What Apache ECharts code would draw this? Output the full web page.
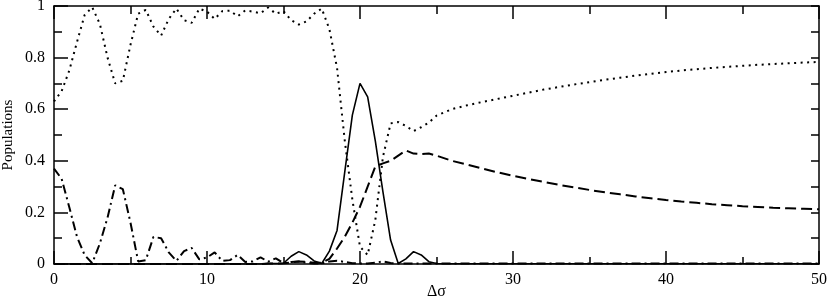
<!DOCTYPE html>
<html>
<head>
<meta charset="utf-8">
<script src="https://cdn.jsdelivr.net/npm/echarts@6/dist/echarts.min.js"></script>
<style>
html, body { margin: 0; padding: 0; background: #fff; }
#chart { width: 830px; height: 300px; }
</style>
</head>
<body>
<div id="chart"></div>
<script>
// delta sigma grid: 0.5 steps up to 25, then 1 steps
var sigma = [0,0.5,1,1.5,2,2.5,3,3.5,4,4.5,5,5.5,6,6.5,7,7.5,8,8.5,9,9.5,
	10,10.5,11,11.5,12,12.5,13,13.5,14,14.5,15,15.5,16,16.5,17,17.5,18,18.5,19,19.5,
	20,20.5,21,21.5,22,22.5,23,23.5,24,24.5,25,
	26,27,28,29,30,31,32,33,34,35,36,37,38,39,40,41,42,43,44,45,46,47,48,49,50];

// dotted
var popDotted = [0.63,0.67,0.75,0.86,0.965,0.995,0.93,0.80,0.70,0.71,0.85,0.97,0.985,0.92,0.885,0.95,0.99,0.945,0.935,0.99,
	0.978,0.95,0.98,0.982,0.96,0.983,0.978,0.972,0.994,0.97,0.98,0.945,0.928,0.94,0.97,0.99,0.91,0.76,0.48,0.25,
	0.067,0.035,0.17,0.415,0.545,0.55,0.535,0.515,0.53,0.548,0.575,
	0.60,0.615,0.628,0.64,0.652,0.664,0.676,0.686,0.696,0.705,0.714,0.722,0.73,0.737,0.744,0.75,0.755,0.76,0.764,0.768,0.772,0.775,0.778,0.781,0.783];

// solid
var popSolid = [0,0,0,0,0,0,0,0,0,0,0,0,0,0,0,0,0,0,0,0,
	0,0,0,0,0,0,0,0,0.002,0.002,0.003,0.03,0.048,0.035,0.012,0.002,0.05,0.13,0.355,0.577,
	0.70,0.648,0.477,0.28,0.093,0.002,0.02,0.048,0.035,0.009,0.002,
	0.001,0.001,0.001,0.001,0.001,0.001,0.001,0.001,0.001,0.001,0.001,0.001,0.001,0.001,0.001,0.001,0.001,0.001,0.001,0.001,0.001,0.001,0.001,0.001,0.001];

// dashed
var popDashed = [0,0,0,0,0,0,0,0,0,0,0,0,0,0,0,0,0,0,0,0,
	0,0,0,0,0,0,0,0,0.002,0.002,0.003,0.006,0.01,0.008,0.005,0.005,0.02,0.06,0.105,0.16,
	0.222,0.30,0.378,0.39,0.40,0.42,0.44,0.428,0.426,0.428,0.42,
	0.40,0.385,0.37,0.355,0.342,0.33,0.318,0.307,0.297,0.287,0.278,0.27,0.262,0.255,0.248,0.242,0.237,0.232,0.228,0.224,0.221,0.218,0.216,0.214,0.212];

// dash-dot
var popDashDot = [0.37,0.33,0.22,0.106,0.035,0.003,0.08,0.18,0.305,0.29,0.16,0.01,0.015,0.105,0.10,0.045,0.012,0.05,0.062,0.018,
	0.025,0.045,0.012,0.015,0.035,0.008,0.01,0.026,0.009,0.022,0.003,0.008,0.01,0.005,0.002,0.002,0.01,0.013,0.008,0.003,
	0.002,0.002,0.005,0.01,0.004,0.002,0.002,0.002,0.002,0.002,0.002,
	0.002,0.002,0.002,0.002,0.002,0.002,0.002,0.002,0.002,0.002,0.002,0.002,0.002,0.002,0.002,0.002,0.002,0.002,0.002,0.002,0.002,0.002,0.002,0.002,0.002];

var xTicks = [0, 10, 20, 30, 40, 50];
var yTicks = [0, 0.2, 0.4, 0.6, 0.8, 1];

function pairs(ys) {
	var out = [];
	for (var i = 0; i < sigma.length; i++) out.push([sigma[i], ys[i]]);
	return out;
}

function line(ys, type, width) {
	return {
		type: 'line',
		data: pairs(ys),
		symbol: 'none',
		silent: true,
		animation: false,
		xAxisIndex: 0,
		yAxisIndex: 0,
		lineStyle: { color: '#000', width: width, type: type }
	};
}

var font = 'Liberation Serif';
var axisLine = { show: true, onZero: false, lineStyle: { color: '#000', width: 1.5 } };

var chart = echarts.init(document.getElementById('chart'), null, { renderer: 'canvas' });
chart.setOption({
	backgroundColor: '#fff',
	grid: { left: 54, right: 11, top: 6, bottom: 36, containLabel: false, outerBoundsMode: 'none' },
	xAxis: [{
		type: 'value', min: xTicks[0], max: xTicks[xTicks.length - 1], interval: 10,
		name: 'Δσ', nameLocation: 'middle', nameGap: 20, nameMoveOverlap: false,
		nameTextStyle: { fontFamily: font, fontSize: 16, color: '#000' },
		axisLine: axisLine,
		axisTick: { inside: true, length: 13, lineStyle: { color: '#000', width: 1.5 } },
		minorTick: { show: true, splitNumber: 2, length: 7, lineStyle: { color: '#000', width: 1.5 } },
		splitLine: { show: false },
		axisLabel: { fontFamily: font, fontSize: 16, color: '#000', margin: 8 }
	}, {
		type: 'value', position: 'top', min: 0, max: 50, interval: 10,
		axisLine: axisLine,
		axisTick: { inside: true, length: 13, lineStyle: { color: '#000', width: 1.5 } },
		minorTick: { show: true, splitNumber: 2, length: 8, lineStyle: { color: '#000', width: 1.5 } },
		splitLine: { show: false },
		axisLabel: { show: false }
	}],
	yAxis: [{
		type: 'value', min: yTicks[0], max: yTicks[yTicks.length - 1], interval: 0.2,
		name: 'Populations', nameLocation: 'middle', nameGap: 38, nameMoveOverlap: false,
		nameTextStyle: { fontFamily: font, fontSize: 15, color: '#000' },
		axisLine: axisLine,
		axisTick: { inside: true, length: 14, lineStyle: { color: '#000', width: 1.5 } },
		minorTick: { show: true, splitNumber: 2, length: 8, lineStyle: { color: '#000', width: 1.5 } },
		splitLine: { show: false },
		axisLabel: {
			fontFamily: font, fontSize: 16, color: '#000', margin: 9,
			formatter: function (v) { return String(Math.round(v * 10) / 10); }
		}
	}, {
		type: 'value', position: 'right', min: 0, max: 1, interval: 0.2,
		axisLine: axisLine,
		axisTick: { inside: true, length: 8, lineStyle: { color: '#000', width: 1.5 } },
		minorTick: { show: true, splitNumber: 2, length: 8, lineStyle: { color: '#000', width: 1.5 } },
		splitLine: { show: false },
		axisLabel: { show: false }
	}],
	series: [
		line(popDotted, [2, 4.5], 2),
		line(popSolid, 'solid', 1.6),
		line(popDashed, [11, 5], 2),
		line(popDashDot, [9, 4, 2, 4], 2)
	]
});
</script>
</body>
</html>
